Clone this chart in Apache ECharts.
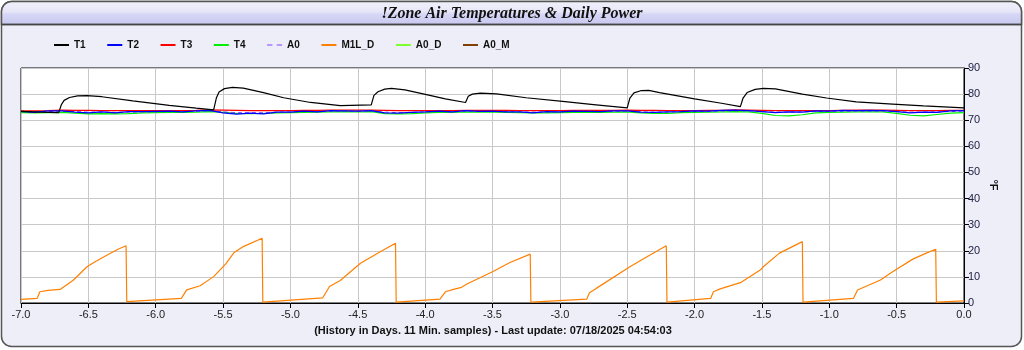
<!DOCTYPE html>
<html>
<head>
<meta charset="utf-8">
<script src="https://cdn.jsdelivr.net/npm/echarts@6/dist/echarts.min.js"></script>
<style>
  html, body { margin: 0; padding: 0; background: #ffffff; }
  #chart { width: 1024px; height: 350px; }
</style>
</head>
<body>
<div id="chart"></div>
<script>
// Zone air temperatures (°F) and daily power, last 7 days.

const seriesNames = ['T1', 'T2', 'T3', 'T4', 'A0', 'M1L_D', 'A0_D', 'A0_M'];
const seriesColors = ['#000000', '#0000ff', '#ff0000', '#00ee00', '#8040ff', '#ff8000', '#80ff30', '#804000'];

const xTicks = [-7.0, -6.5, -6.0, -5.5, -5.0, -4.5, -4.0, -3.5, -3.0, -2.5, -2.0, -1.5, -1.0, -0.5, 0.0];
const yTicks = [0, 10, 20, 30, 40, 50, 60, 70, 80, 90];

// T1: days and temperature
const t1Days = [-7.00, -6.85, -6.72, -6.70, -6.68, -6.64, -6.58, -6.51, -6.40, -6.17, -5.90, -5.70, -5.57,
  -5.55, -5.53, -5.49, -5.43, -5.35, -5.20, -5.05, -4.85, -4.63, -4.40,
  -4.38, -4.35, -4.30, -4.25, -4.15, -3.99, -3.85, -3.70,
  -3.68, -3.65, -3.59, -3.47, -3.25, -2.98, -2.75, -2.50,
  -2.48, -2.45, -2.40, -2.34, -2.26, -2.00, -1.80, -1.66,
  -1.64, -1.61, -1.55, -1.49, -1.40, -1.20, -1.02, -0.80, -0.53, -0.30, 0.00];
const t1Temp = [73.4, 73.1, 72.9, 76.0, 77.6, 78.7, 79.3, 79.4, 79.0, 77.4, 75.7, 74.6, 74.0,
  78.5, 80.8, 82.1, 82.6, 82.3, 80.6, 78.6, 76.8, 75.6, 75.9,
  79.5, 80.9, 81.9, 82.2, 81.6, 79.8, 78.2, 76.8,
  79.2, 80.0, 80.4, 80.1, 78.6, 77.2, 76.0, 74.7,
  78.5, 80.5, 81.3, 81.4, 80.6, 78.2, 76.5, 75.2,
  78.5, 80.6, 81.8, 82.2, 82.0, 80.0, 78.5, 77.0, 76.2, 75.5, 74.7];

// Sample days for the zone sensors T2, T3, T4, A0
const sensorDays = [-7.0, -6.9, -6.8, -6.7, -6.6, -6.5, -6.4, -6.3, -6.2, -6.1,
  -6.0, -5.9, -5.8, -5.7, -5.6, -5.5, -5.4, -5.3, -5.2, -5.1,
  -5.0, -4.9, -4.8, -4.7, -4.6, -4.5, -4.4, -4.3, -4.2, -4.1,
  -4.0, -3.9, -3.8, -3.7, -3.6, -3.5, -3.4, -3.3, -3.2, -3.1,
  -3.0, -2.9, -2.8, -2.7, -2.6, -2.5, -2.4, -2.3, -2.2, -2.1,
  -2.0, -1.9, -1.8, -1.7, -1.6, -1.5, -1.4, -1.3, -1.2, -1.1,
  -1.0, -0.9, -0.8, -0.7, -0.6, -0.5, -0.4, -0.3, -0.2, -0.1, 0.0];
const t2Temp = [73.4, 73.0, 73.6, 73.6, 73.1, 72.8, 73.2, 72.8, 73.3, 73.3,
  73.4, 73.5, 73.2, 73.6, 73.8, 72.8, 72.3, 72.7, 72.4, 73.1,
  73.1, 73.5, 73.2, 73.7, 73.6, 73.5, 73.7, 72.8, 72.7, 73.0,
  73.2, 73.5, 73.2, 73.7, 73.4, 73.5, 73.2, 73.2, 72.8, 73.3,
  73.2, 73.5, 73.4, 73.3, 73.6, 73.6, 73.1, 73.0, 73.2, 73.3,
  73.6, 73.5, 73.8, 73.9, 73.7, 73.3, 72.9, 73.2, 73.1, 73.6,
  73.5, 73.8, 73.7, 73.8, 73.7, 73.3, 72.8, 73.1, 73.0, 73.6, 73.7];
const t3Temp = [73.6, 73.6, 73.7, 73.9, 73.8, 73.8, 73.7, 73.7, 73.7, 73.7,
  73.7, 73.7, 73.7, 73.8, 74.0, 73.9, 73.8, 73.7, 73.7, 73.7,
  73.7, 73.8, 73.8, 73.9, 73.9, 73.9, 73.9, 73.8, 73.7, 73.7,
  73.7, 73.7, 73.7, 73.8, 73.8, 73.8, 73.8, 73.7, 73.7, 73.7,
  73.7, 73.8, 73.8, 73.8, 73.8, 73.9, 73.8, 73.8, 73.7, 73.7,
  73.7, 73.8, 73.8, 74.0, 73.9, 73.8, 73.7, 73.7, 73.7, 73.7,
  73.7, 73.8, 73.9, 73.9, 73.9, 73.8, 73.7, 73.7, 73.7, 73.8, 73.8];
const t4Temp = [72.9, 72.8, 72.9, 73.0, 72.7, 72.4, 72.5, 72.4, 72.5, 72.8,
  72.9, 73.0, 73.0, 73.1, 73.3, 73.0, 72.6, 72.5, 72.6, 72.8,
  72.9, 73.0, 73.1, 73.2, 73.3, 73.2, 73.3, 72.5, 72.4, 72.5,
  72.8, 73.0, 73.0, 73.2, 73.1, 73.1, 73.0, 72.9, 72.8, 72.8,
  72.9, 73.0, 73.1, 73.0, 73.1, 73.2, 72.8, 72.6, 72.6, 72.9,
  73.0, 73.1, 73.2, 73.3, 73.2, 72.6, 71.8, 71.7, 72.1, 72.8,
  73.0, 73.1, 73.2, 73.2, 73.2, 72.6, 71.9, 71.7, 72.2, 72.7, 72.9];
const a0Temp = [73.3, 73.2, 73.3, 73.5, 73.3, 73.1, 73.1, 73.0, 73.1, 73.2,
  73.2, 73.3, 73.3, 73.4, 73.6, 73.2, 72.9, 72.9, 72.9, 73.1,
  73.2, 73.3, 73.3, 73.4, 73.5, 73.4, 73.5, 73.1, 72.9, 73.0,
  73.2, 73.3, 73.2, 73.4, 73.4, 73.3, 73.3, 73.2, 73.1, 73.2,
  73.2, 73.3, 73.4, 73.3, 73.4, 73.5, 73.2, 73.1, 73.1, 73.3,
  73.3, 73.4, 73.5, 73.6, 73.6, 73.3, 73.1, 73.1, 73.2, 73.3,
  73.4, 73.4, 73.5, 73.5, 73.5, 73.3, 73.1, 73.1, 73.2, 73.3, 73.5];

// M1L_D: daily power accumulator, resets each day
const m1lDays = [-7.00, -6.88, -6.86, -6.80, -6.71, -6.61, -6.51, -6.45, -6.36, -6.28, -6.22,
  -6.215, -5.81, -5.77, -5.67, -5.57, -5.48, -5.42, -5.35, -5.21,
  -5.205, -4.76, -4.71, -4.63, -4.48, -4.33, -4.22,
  -4.215, -3.89, -3.85, -3.79, -3.73, -3.69, -3.50, -3.37, -3.22,
  -3.215, -2.80, -2.78, -2.73, -2.48, -2.35, -2.21,
  -2.205, -1.88, -1.86, -1.81, -1.66, -1.51, -1.49, -1.37, -1.20,
  -1.195, -0.82, -0.79, -0.62, -0.53, -0.38, -0.28, -0.21,
  -0.205, 0.00];
const m1lValue = [1.4, 1.8, 4.3, 4.8, 5.2, 8.8, 13.9, 15.8, 18.4, 20.6, 21.9,
  0.5, 1.8, 5.0, 6.6, 10.1, 15.0, 19.2, 21.6, 24.8,
  0.3, 2.0, 6.3, 8.6, 15.2, 19.7, 22.9,
  0.3, 1.5, 4.3, 5.2, 6.0, 7.3, 12.0, 15.5, 18.7,
  0.3, 1.5, 3.9, 5.6, 13.9, 17.8, 21.9,
  0.3, 1.8, 4.3, 5.4, 7.8, 12.7, 13.9, 19.1, 23.5,
  0.3, 1.8, 5.0, 8.8, 12.0, 16.8, 19.1, 20.6,
  0.3, 0.8];

function pairs(xs, ys) {
  return xs.map((x, i) => [x, ys[i]]);
}

const labelFont = '"Liberation Sans", Arial, sans-serif';
const dashIcon = 'path://M0,0h5v1h-5zM9,0h5v1h-5z';

function lineSeries(idx, data, extra) {
  return Object.assign({
    name: seriesNames[idx],
    type: 'line',
    data: data,
    symbol: 'none',
    animation: false,
    lineStyle: { color: seriesColors[idx], width: 1.2 },
    itemStyle: { color: seriesColors[idx] }
  }, extra || {});
}

const chart = echarts.init(document.getElementById('chart'), null, { renderer: 'canvas' });

chart.setOption({
  animation: false,
  backgroundColor: 'transparent',
  graphic: [
    {
      type: 'rect', z: -20, silent: true,
      shape: { x: 1.5, y: 1.5, width: 1020, height: 345, r: 10 },
      style: { fill: '#eeeef9', stroke: '#555555', lineWidth: 1.5 }
    },
    {
      type: 'rect', z: -19, silent: true,
      shape: { x: 1.5, y: 1.5, width: 1020, height: 23, r: [10, 10, 0, 0] },
      style: {
        fill: new echarts.graphic.LinearGradient(0, 0, 0, 1, [
          { offset: 0, color: '#f2f2fc' },
          { offset: 0.45, color: '#e6e6f8' },
          { offset: 0.55, color: '#d6d6f6' },
          { offset: 1, color: '#c8c8f0' }
        ]),
        stroke: '#555555', lineWidth: 1.5
      }
    },
    {
      type: 'line', z: -18, silent: true,
      shape: { x1: 1.5, y1: 24.5, x2: 1021.5, y2: 24.5 },
      style: { stroke: '#444444', lineWidth: 1.5 }
    },
    {
      type: 'text', z: 10, silent: true,
      x: 512, y: 14,
      style: {
        text: '!Zone Air Temperatures & Daily Power',
        font: 'italic bold 16px "Liberation Serif", "DejaVu Serif", serif',
        fill: '#111111', align: 'center', verticalAlign: 'middle'
      }
    },
    {
      type: 'text', z: 10, silent: true,
      x: 493, y: 331,
      style: {
        text: '(History in Days. 11 Min. samples) - Last update: 07/18/2025 04:54:03',
        font: 'bold 11px ' + labelFont,
        fill: '#111111', align: 'center', verticalAlign: 'middle'
      }
    },
    {
      // y-axis unit, reading top to bottom
      type: 'text', z: 10, silent: true,
      x: 993, y: 185, rotation: -Math.PI / 2,
      style: {
        text: '°F',
        font: 'bold 11px ' + labelFont,
        fill: '#111111', align: 'center', verticalAlign: 'middle'
      }
    }
  ],
  legend: {
    left: 54, top: 40, padding: 0,
    itemWidth: 15, itemHeight: 2, itemGap: 21.6,
    icon: 'rect',
    selectedMode: false,
    textStyle: { fontFamily: labelFont, fontSize: 10, fontWeight: 'bold', color: '#111111' },
    data: seriesNames.map(n => n === 'A0' ? { name: n, icon: dashIcon } : { name: n })
  },
  grid: {
    left: 21, right: 60, top: 68, bottom: 47,
    show: true, backgroundColor: '#ffffff', borderColor: '#000000', borderWidth: 1
  },
  xAxis: {
    type: 'value', min: -7, max: 0, interval: 0.5,
    axisLine: { show: true, onZero: false, lineStyle: { color: '#000000', width: 1 } },
    axisTick: { show: true, length: 5, lineStyle: { color: '#000000' } },
    axisLabel: {
      fontFamily: labelFont, fontSize: 11, color: '#222222', margin: 6,
      formatter: v => xTicks.includes(v) ? v.toFixed(1) : ''
    },
    splitLine: { show: true, lineStyle: { color: '#c8c8c8', width: 1 } }
  },
  yAxis: {
    type: 'value', position: 'right', min: 0, max: 90, interval: 10,
    axisLine: { show: true, lineStyle: { color: '#000000', width: 1 } },
    axisTick: { show: true, length: 5, lineStyle: { color: '#000000' } },
    axisLabel: {
      fontFamily: labelFont, fontSize: 11, color: '#222244', margin: 4,
      formatter: v => yTicks.includes(v) ? String(v) : ''
    },
    splitLine: { show: true, lineStyle: { color: '#c8c8c8', width: 1 } }
  },
  series: [
    lineSeries(0, pairs(t1Days, t1Temp), { z: 3 }),
    lineSeries(3, pairs(sensorDays, t4Temp), { name: 'T4', z: 2 }),
    lineSeries(2, pairs(sensorDays, t3Temp), { name: 'T3', z: 2 }),
    lineSeries(4, pairs(sensorDays, a0Temp), { name: 'A0', z: 2, lineStyle: { color: seriesColors[4], width: 1, type: [4, 3] } }),
    lineSeries(1, pairs(sensorDays, t2Temp), { name: 'T2', z: 2 }),
    lineSeries(5, pairs(m1lDays, m1lValue), { z: 2 }),
    lineSeries(6, [], {}),
    lineSeries(7, [], {})
  ]
});
</script>
</body>
</html>
